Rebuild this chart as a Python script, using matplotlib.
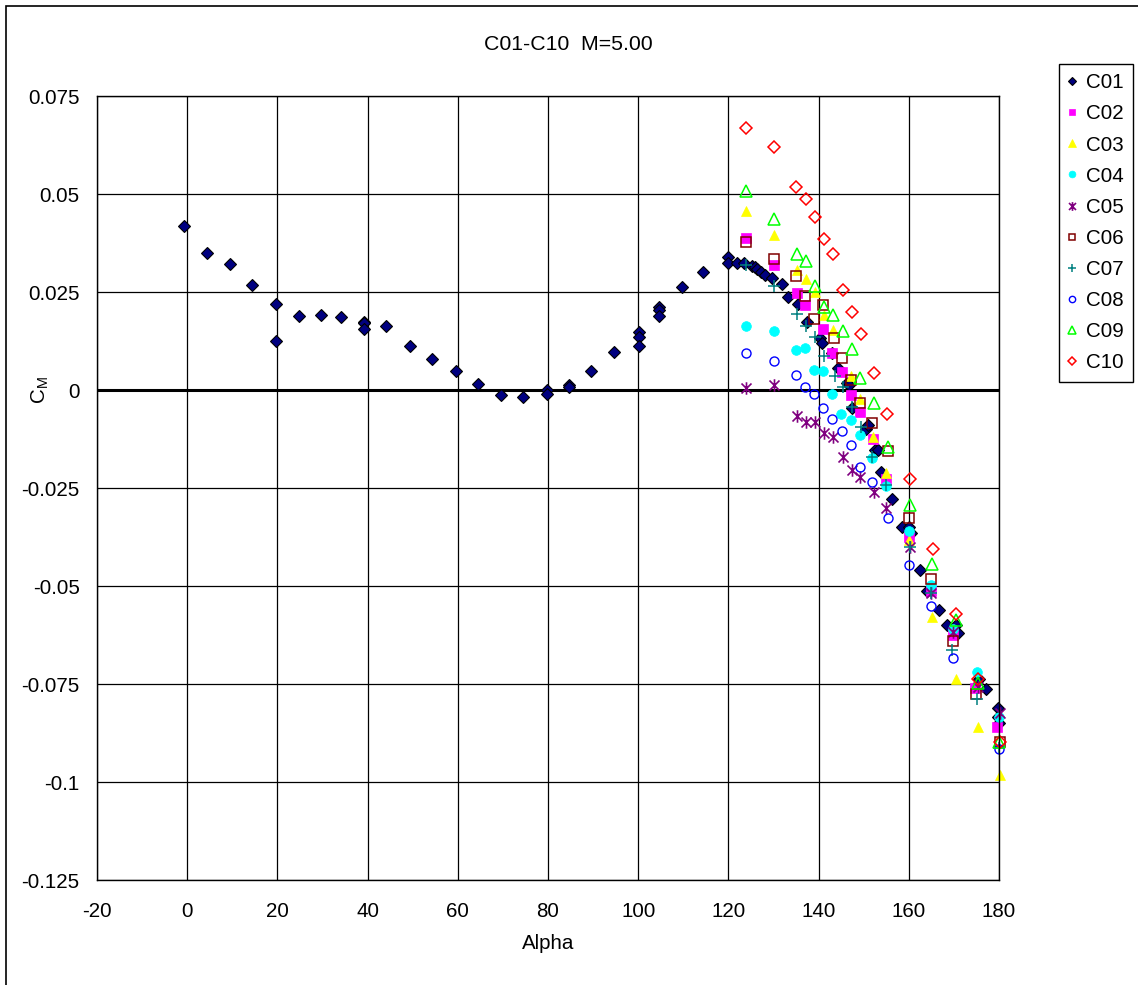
import matplotlib

matplotlib.use("Agg")
import matplotlib.pyplot as plt
import numpy as np
from matplotlib.patches import Rectangle
from matplotlib.path import Path

plt.rcParams["font.family"] = ["Liberation Sans", "DejaVu Sans"]
plt.rcParams["mathtext.fontset"] = "custom"
plt.rcParams["mathtext.rm"] = "Liberation Sans"
plt.rcParams["axes.unicode_minus"] = False

TITLE = "C01-C10  M=5.00"
X_TICKS = [-20, 0, 20, 40, 60, 80, 100, 120, 140, 160, 180]
Y_TICKS = [-0.125, -0.1, -0.075, -0.05, -0.025, 0, 0.025, 0.05, 0.075]
Y_TICK_LABELS = ["-0.125", "-0.1", "-0.075", "-0.05", "-0.025", "0", "0.025", "0.05", "0.075"]

c01_alpha = [-0.6, 4.4, 9.6, 14.3, 19.7, 19.7, 24.7, 29.6, 34.2, 39.1, 39.1, 39.1, 44.1,
             49.3, 54.3, 59.7, 64.4, 69.6, 74.5, 79.7, 79.7, 84.7, 84.7, 89.6, 94.7,
             100.1, 100.1, 100.1, 104.6, 104.6, 104.6, 109.8, 114.4, 120.0, 120.0, 121.8,
             123.4, 125.3, 126.0, 126.4, 127.3, 128.2, 129.6, 131.9, 133.3, 135.4, 137.5,
             140.3, 140.8, 143.0, 144.2, 146.2, 146.7, 147.4, 150.4, 151.0, 152.5, 153.2,
             153.8, 156.2, 158.4, 160.0, 160.4, 162.5, 164.1, 166.7, 168.4, 170.4, 170.9,
             175.6, 177.1, 179.7, 179.7, 180.0]
c01_cm = [0.0418, 0.0349, 0.0322, 0.0269, 0.0219, 0.0126, 0.0189, 0.0192, 0.0186, 0.0174,
          0.0170, 0.0156, 0.0163, 0.0113, 0.0080, 0.0049, 0.0016, -0.0014, -0.0017, 0.0001,
          -0.0009, 0.0014, 0.0008, 0.0049, 0.0096, 0.0149, 0.0135, 0.0112, 0.0213, 0.0203,
          0.0189, 0.0262, 0.0302, 0.0340, 0.0325, 0.0323, 0.0325, 0.0317, 0.0315, 0.0308,
          0.0300, 0.0293, 0.0286, 0.0270, 0.0236, 0.0219, 0.0173, 0.0132, 0.0121, 0.0094,
          0.0055, 0.0019, 0.0013, -0.0045, -0.0100, -0.0090, -0.0153, -0.0153, -0.0208,
          -0.0278, -0.0349, -0.0349, -0.0365, -0.0458, -0.0512, -0.0561, -0.0600, -0.0600,
          -0.0620, -0.0736, -0.0764, -0.0810, -0.0833, -0.0850]

c02_alpha = [124.0, 130.1, 135.3, 137.0, 141.0, 143.0, 145.1, 147.1, 149.2, 152.0, 154.9, 160.0, 165.0, 169.8, 174.7, 179.6]
c02_cm = [0.0387, 0.0319, 0.0248, 0.0217, 0.0155, 0.0095, 0.0047, -0.0014, -0.0055, -0.0125, -0.0226, -0.0374, -0.0514, -0.0625, -0.0761, -0.0859]

c03_alpha = [124.0, 130.1, 135.3, 137.1, 139.1, 141.2, 143.3, 147.1, 149.2, 152.1, 154.9, 160.0, 165.1, 170.4, 175.3, 180.2]
c03_cm = [0.0457, 0.0395, 0.0306, 0.0283, 0.0251, 0.0191, 0.0153, 0.0036, -0.0024, -0.0120, -0.0212, -0.0383, -0.0580, -0.0738, -0.0859, -0.0982]

c04_alpha = [123.9, 130.1, 134.9, 137.0, 139.0, 141.0, 143.0, 145.0, 147.1, 149.2, 151.8, 155.0, 160.0, 165.0, 169.9, 175.1, 180.0]
c04_cm = [0.0162, 0.0151, 0.0102, 0.0108, 0.0051, 0.0048, -0.0009, -0.0060, -0.0077, -0.0115, -0.0174, -0.0244, -0.0360, -0.0497, -0.0610, -0.0719, -0.0833]

c05_alpha = [124.0, 130.1, 135.3, 137.3, 139.1, 141.2, 143.2, 145.3, 147.3, 149.1, 152.2, 155.0, 160.2, 165.0, 169.8, 175.3, 180.2]
c05_cm = [0.0006, 0.0013, -0.0066, -0.0081, -0.0081, -0.0110, -0.0119, -0.0170, -0.0204, -0.0223, -0.0260, -0.0302, -0.0400, -0.0519, -0.0617, -0.0757, -0.0825]

c06_alpha = [124.0, 130.1, 134.9, 137.0, 139.0, 141.0, 143.5, 145.1, 147.1, 149.2, 151.9, 155.3, 160.0, 165.0, 169.9, 174.9, 180.2]
c06_cm = [0.0377, 0.0333, 0.0291, 0.0240, 0.0180, 0.0217, 0.0132, 0.0081, 0.0026, -0.0034, -0.0085, -0.0156, -0.0327, -0.0483, -0.0640, -0.0776, -0.0897]

c07_alpha = [124.0, 130.1, 135.3, 137.3, 139.2, 141.2, 143.6, 145.3, 147.5, 149.3, 151.9, 154.9, 160.2, 165.0, 169.6, 175.1, 180.0]
c07_cm = [0.0319, 0.0265, 0.0194, 0.0163, 0.0134, 0.0087, 0.0036, 0.0007, -0.0043, -0.0094, -0.0170, -0.0242, -0.0400, -0.0519, -0.0662, -0.0787, -0.0914]

c08_alpha = [123.9, 130.1, 134.9, 137.0, 139.0, 141.0, 143.0, 145.1, 147.1, 149.2, 151.9, 155.3, 160.0, 165.0, 169.9, 180.0]
c08_cm = [0.0095, 0.0075, 0.0038, 0.0008, -0.0009, -0.0047, -0.0075, -0.0105, -0.0140, -0.0197, -0.0234, -0.0327, -0.0446, -0.0550, -0.0683, -0.0917]

c09_alpha = [124.0, 130.1, 135.1, 137.3, 139.1, 141.2, 143.3, 145.3, 147.3, 149.2, 152.2, 155.3, 160.2, 165.1, 170.4, 175.3, 180.0]
c09_cm = [0.0508, 0.0435, 0.0347, 0.0330, 0.0266, 0.0211, 0.0191, 0.0151, 0.0105, 0.0031, -0.0034, -0.0145, -0.0293, -0.0444, -0.0587, -0.0748, -0.0897]

c10_alpha = [124.0, 130.1, 135.0, 137.1, 139.1, 141.2, 143.2, 145.3, 147.3, 149.3, 152.2, 155.1, 160.2, 165.3, 170.4, 175.3, 180.2]
c10_cm = [0.0668, 0.0621, 0.0517, 0.0488, 0.0441, 0.0385, 0.0348, 0.0255, 0.0198, 0.0143, 0.0044, -0.0061, -0.0226, -0.0406, -0.0571, -0.0737, -0.0897]

# excel style asterisk: an x with a vertical bar through it
STAR = Path(
    [(-1, -1), (1, 1), (-1, 1), (1, -1), (0, -1.25), (0, 1.25)],
    [Path.MOVETO, Path.LINETO, Path.MOVETO, Path.LINETO, Path.MOVETO, Path.LINETO],
)

series = [
    ("C01", c01_alpha, c01_cm, dict(marker="D", ms=6.5, mfc="#000080", mec="black", mew=0.8)),
    ("C02", c02_alpha, c02_cm, dict(marker="s", ms=6.5, mfc="#ff00ff", mec="#ff00ff", mew=0.5)),
    ("C03", c03_alpha, c03_cm, dict(marker="^", ms=7.5, mfc="#ffff00", mec="#ffff00", mew=0.5)),
    ("C04", c04_alpha, c04_cm, dict(marker="o", ms=7, mfc="#00ffff", mec="#00ffff", mew=0.5)),
    ("C05", c05_alpha, c05_cm, dict(marker=STAR, ms=9, mfc="none", mec="#800080", mew=1.2)),
    ("C06", c06_alpha, c06_cm, dict(marker="s", ms=6.5, mfc="none", mec="#800000", mew=1.1)),
    ("C07", c07_alpha, c07_cm, dict(marker="+", ms=8.5, mfc="none", mec="#008080", mew=1.1)),
    ("C08", c08_alpha, c08_cm, dict(marker="o", ms=6.5, mfc="none", mec="#0000ff", mew=1.0)),
    ("C09", c09_alpha, c09_cm, dict(marker="^", ms=8, mfc="none", mec="#00ff00", mew=1.1)),
    ("C10", c10_alpha, c10_cm, dict(marker="D", ms=6.5, mfc="none", mec="#ff0000", mew=1.1)),
]

W, H = 1138, 985
fig = plt.figure(figsize=(W / 100, H / 100), dpi=100)
ax = fig.add_axes([97 / W, 1 - 880 / H, (999 - 97) / W, (880 - 96) / H])

for name, a, cm, style in series:
    ax.plot(a, cm, linestyle="none", label=name, clip_on=False, **style)

ax.set_xlim(-20, 180)
ax.set_ylim(-0.125, 0.075)
ax.set_xticks(X_TICKS)
ax.set_yticks(Y_TICKS)
ax.set_yticklabels(Y_TICK_LABELS)
ax.tick_params(length=0, labelsize=14.8)
ax.tick_params(axis="x", pad=16)
ax.tick_params(axis="y", pad=12.5)
ax.grid(True, color="black", linewidth=0.9)
ax.set_axisbelow(True)
ax.axhline(0, color="black", linewidth=2.2, zorder=1.5)
for s in ax.spines.values():
    s.set_linewidth(1.0)

fig.text(568 / W, 1 - 44 / H, TITLE, fontsize=15.3, ha="center", va="center")
ax.set_xlabel("Alpha", fontsize=14.8, labelpad=9)
fig.text(40 / W, 1 - 390 / H, r"C$_\mathregular{M}$", fontsize=14.8, rotation=90,
         ha="center", va="center")

leg = ax.legend(
    loc="upper left",
    bbox_to_anchor=(1059 / W, 1 - 64 / H),
    bbox_transform=fig.transFigure,
    borderaxespad=0,
    fancybox=False,
    edgecolor="black",
    framealpha=1,
    fontsize=14.8,
    labelspacing=0.59,
    handlelength=0.4,
    handletextpad=0.45,
    borderpad=0.45,
    markerscale=0.7,
)
leg.get_frame().set_linewidth(1.0)

# outer chart frame (only top and left edges fall inside the image)
fig.add_artist(Rectangle((6 / W, -0.1), 2, 1 - 6 / H + 0.1, transform=fig.transFigure,
                         fill=False, edgecolor="black", linewidth=1.2))

fig.savefig("out.png", dpi=100)
